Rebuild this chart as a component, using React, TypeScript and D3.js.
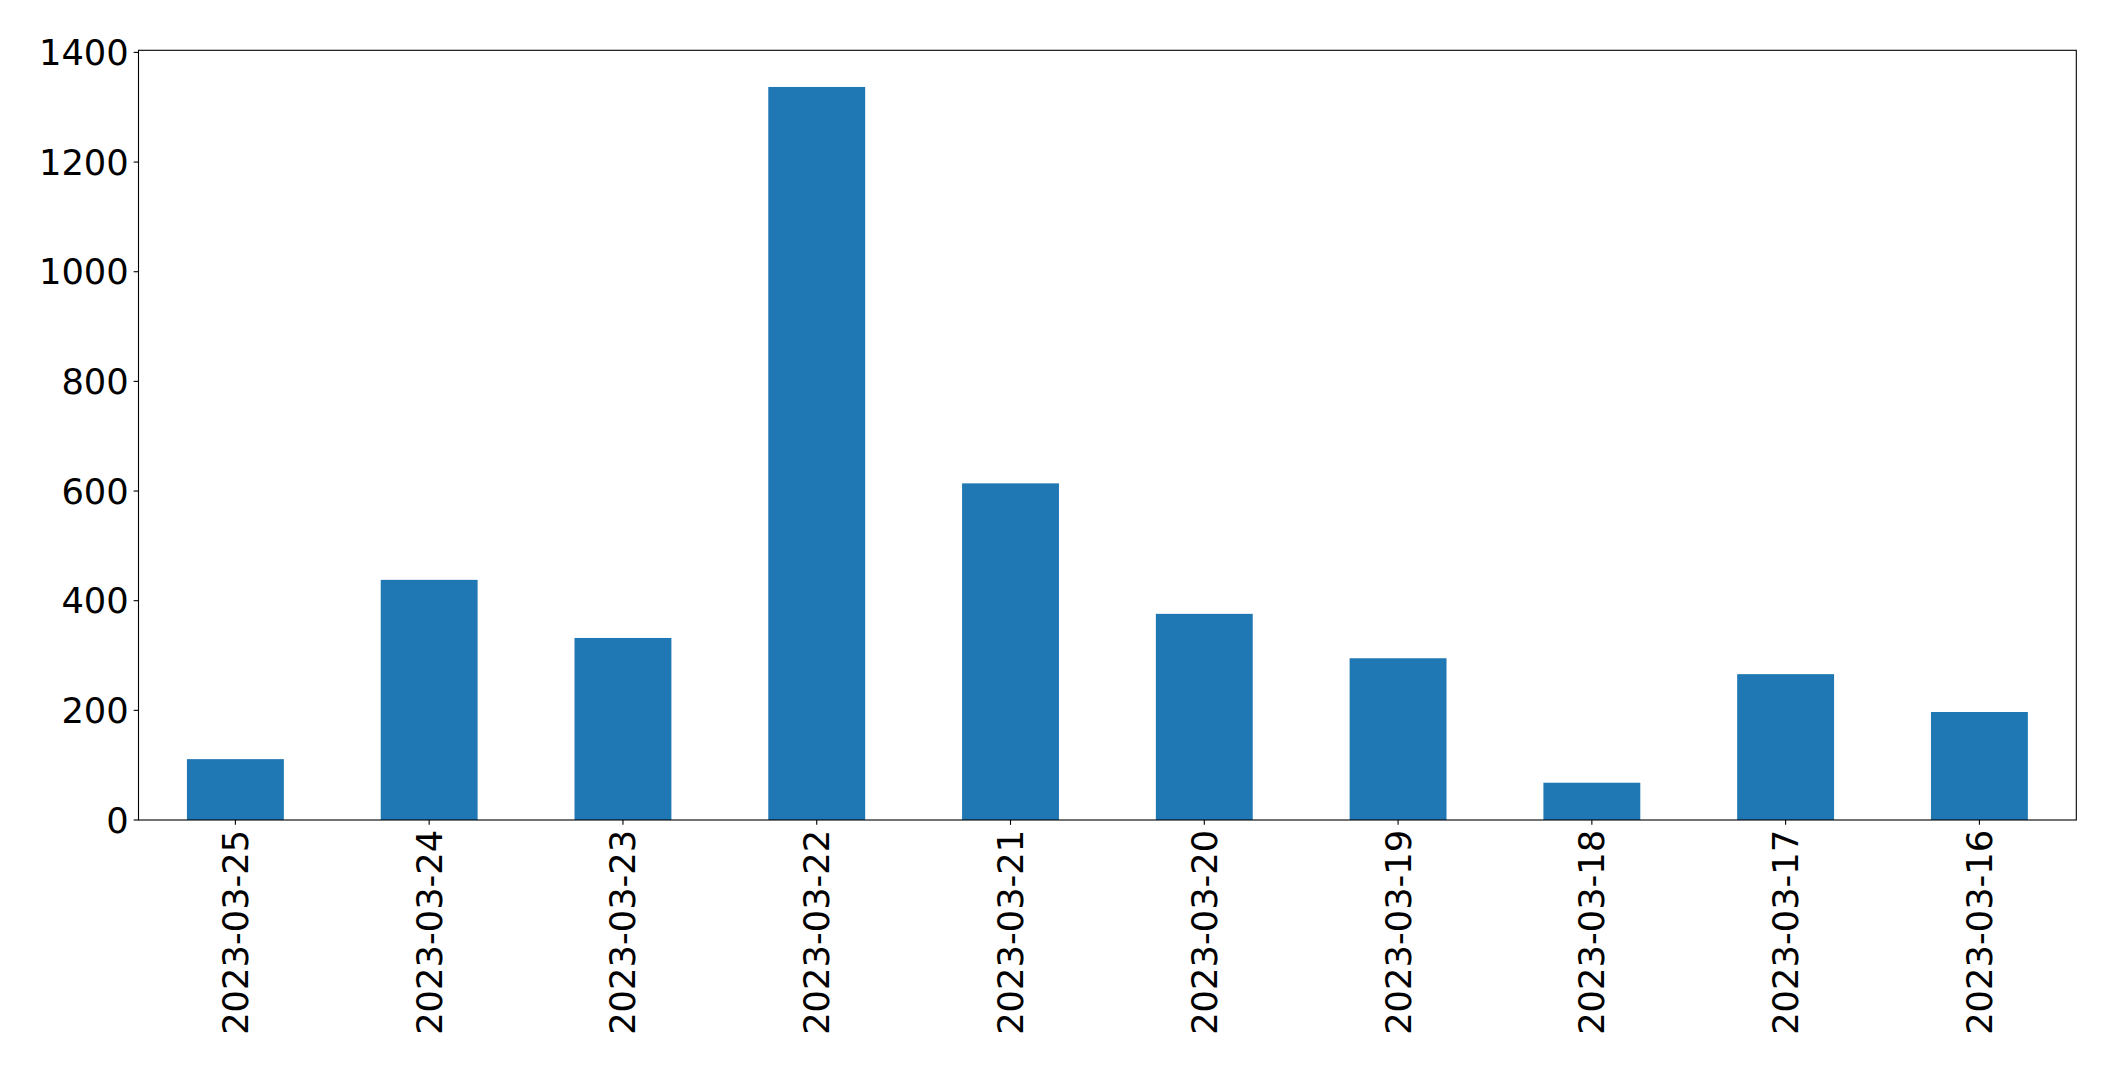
import React from "react";
import * as d3 from "d3";

const categories = ["2023-03-25", "2023-03-24", "2023-03-23", "2023-03-22", "2023-03-21", "2023-03-20", "2023-03-19", "2023-03-18", "2023-03-17", "2023-03-16"];
const values = [111, 438, 332, 1337, 614, 376, 295, 68, 266, 197];
const yTicks = [0, 200, 400, 600, 800, 1000, 1200, 1400];

const W = 2115;
const H = 1072;
const M = { left: 138.5, right: 2076.3, top: 50.3, bottom: 820 };
const FS = 35.3;
const TICK = 4.86;
const PAD = 4.86;

export default function App() {
  const ymax = (d3.max(values) as number) * 1.05;
  const x = d3.scaleLinear().domain([-0.5, categories.length - 0.5]).range([M.left, M.right]);
  const y = d3.scaleLinear().domain([0, ymax]).range([M.bottom, M.top]);
  const bw = 0.5;
  return (
    <svg width={W} height={H} style={{ position: "absolute", left: 0, top: 0, background: "#fff" }} fontFamily="DejaVu Sans">
      <rect x={0} y={0} width={W} height={H} fill="#fff" />
      {values.map((v, i) => (
        <rect key={i} x={x(i - bw / 2)} y={y(v)} width={x(i + bw / 2) - x(i - bw / 2)} height={y(0) - y(v)} fill="#1f77b4" />
      ))}
      <rect x={M.left} y={M.top} width={M.right - M.left} height={M.bottom - M.top} fill="none" stroke="#000" strokeWidth={1.1} />
      {yTicks.map((t) => (
        <g key={t}>
          <line x1={M.left - TICK} x2={M.left} y1={y(t)} y2={y(t)} stroke="#000" strokeWidth={1.1} />
          <text x={M.left - TICK - PAD} y={y(t)} textAnchor="end" dominantBaseline="central" fontSize={FS} fill="#000">{t}</text>
        </g>
      ))}
      {categories.map((c, i) => (
        <g key={c}>
          <line x1={x(i)} x2={x(i)} y1={M.bottom} y2={M.bottom + TICK} stroke="#000" strokeWidth={1.1} />
          <text transform={`translate(${x(i)},${M.bottom + TICK + PAD}) rotate(-90)`} textAnchor="end" dominantBaseline="central" fontSize={FS} fill="#000">{c}</text>
        </g>
      ))}
    </svg>
  );
}
